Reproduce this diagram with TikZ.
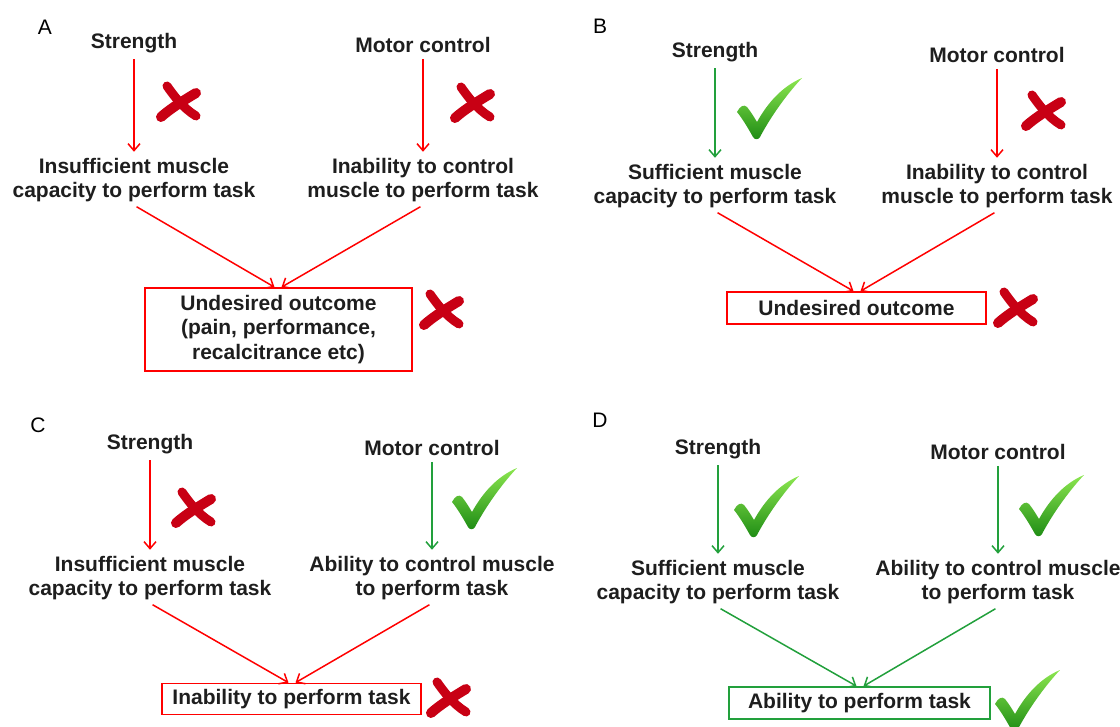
\documentclass[tikz,border=0pt]{standalone}
\usepackage{fontspec}
\setmainfont{Liberation Sans}
\usetikzlibrary{arrows.meta}
\definecolor{linered}{RGB}{255,0,0}
\definecolor{linegreen}{RGB}{34,160,60}
\definecolor{crossred}{RGB}{200,0,20}
\definecolor{tickdark}{RGB}{30,140,20}
\definecolor{ticklight}{RGB}{140,230,80}
\definecolor{textcol}{RGB}{30,30,30}
\tikzset{
  panel/.style={font=\fontsize{21}{25}\selectfont, text=black},
  cause/.style={font=\fontsize{21}{24.5}\selectfont\bfseries, text=textcol, align=center, inner sep=3pt},
  outcome/.style={cause, draw, line width=1.7pt, inner sep=0pt},
  bad/.style={->, draw=linered, line width=1.5pt, shorten <=3pt, shorten >=3pt},
  good/.style={->, draw=linegreen, line width=1.5pt, shorten <=3pt, shorten >=3pt},
  crossmark/.pic={
    \draw[crossred, line width=9pt, line cap=round] (-11,-16) .. controls (-4,-6) and (5,6) .. (18,14);
    \draw[crossred, line width=10pt, line cap=round] (18,-9) .. controls (8,-3) and (-7,6) .. (-17,15);
  },
  tickmark/.pic={
    \shade[top color=ticklight, bottom color=tickdark] (-31,2) .. controls (-28,-4) and (-24,-6) .. (-21,-3)
      .. controls (-17,2) and (-14,7) .. (-11,12)
      .. controls (0,-8) and (15,-24) .. (34,-32)
      .. controls (18,-15) and (2,8) .. (-8,27)
      .. controls (-10,30) and (-13,30) .. (-15,27)
      .. controls (-20,18) and (-26,8) .. cycle;
  }
}
\begin{document}
\begin{tikzpicture}[x=1pt,y=-1pt,>={Straight Barb[length=7pt,width=12pt]}]
\useasboundingbox (0,0) rectangle (1120,727);
%% Panel A
\node[panel] (labA) at (45,27) {A};
  % Node: Strength
\node[cause] (strA) at (134,43) {Strength};
\node[cause] (motA) at (423,45) {Motor control};
  % Node: capacity
\node[cause] (capA) at (134,180) {Insufficient muscle\\capacity to perform task};
\node[cause] (ctlA) at (423,180) {Inability to control\\muscle to perform task};
  % Node: outcome
\node[outcome, draw=linered, minimum width=267pt, minimum height=83pt] (outA) at (278.5,329.5)
  {Undesired outcome\\(pain, performance,\\recalcitrance etc)};
  % Edges
\draw[bad] (strA) -- (capA);
\draw[bad] (motA) -- (ctlA);
\draw[bad, shorten >=0pt] (capA.south) -- ([xshift=-4pt]outA.north);
\draw[bad, shorten >=0pt] (ctlA.south) -- ([xshift=3pt]outA.north);
\pic at (178,102) {crossmark};
\pic at (472,103) {crossmark};
\pic at (441,310) {crossmark};
%% Panel B
\node[panel] (labB) at (600,26) {B};
\node[cause] (strB) at (715,52) {Strength};
\node[cause] (motB) at (997,55) {Motor control};
\node[cause] (capB) at (715,186) {Sufficient muscle\\capacity to perform task};
\node[cause] (ctlB) at (997,186) {Inability to control\\muscle to perform task};
\node[outcome, draw=linered, minimum width=259pt, minimum height=32pt] (outB) at (856.5,308) {Undesired outcome};
\draw[good] (strB) -- (capB);
\draw[bad] (motB) -- (ctlB);
\draw[bad, shorten >=0pt] (capB.south) -- ([xshift=-3pt]outB.north);
\draw[bad, shorten >=0pt] (ctlB.south) -- ([xshift=4pt]outB.north);
\pic at (768,110) {tickmark};
\pic at (1043,111) {crossmark};
\pic at (1015,308) {crossmark};
%% Panel C
\node[panel] (labC) at (38,425) {C};
\node[cause] (strC) at (150,444) {Strength};
\node[cause] (motC) at (432,448) {Motor control};
\node[cause] (capC) at (150,578) {Insufficient muscle\\capacity to perform task};
\node[cause] (ctlC) at (432,578) {Ability to control muscle\\to perform task};
\node[outcome, draw=linered, minimum width=259pt, minimum height=31pt] (outC) at (291.5,699) {Inability to perform task};
\draw[bad] (strC) -- (capC);
\draw[good] (motC) -- (ctlC);
\draw[bad, shorten >=0pt] (capC.south) -- ([xshift=-3pt]outC.north);
\draw[bad, shorten >=0pt] (ctlC.south) -- ([xshift=4pt]outC.north);
\pic at (193,508) {crossmark};
\pic at (483,500) {tickmark};
\pic at (448,698) {crossmark};
%% Panel D
\node[panel] (labD) at (600,420) {D};
\node[cause] (strD) at (718,449) {Strength};
\node[cause] (motD) at (998,452) {Motor control};
\node[cause] (capD) at (718,582) {Sufficient muscle\\capacity to perform task};
\node[cause] (ctlD) at (998,582) {Ability to control muscle\\to perform task};
\node[outcome, draw=linegreen, minimum width=261pt, minimum height=32pt] (outD) at (859.5,703) {Ability to perform task};
\draw[good] (strD) -- (capD);
\draw[good] (motD) -- (ctlD);
\draw[good, shorten >=0pt] (capD.south) -- ([xshift=-3pt]outD.north);
\draw[good, shorten >=0pt] (ctlD.south) -- ([xshift=4pt]outD.north);
\pic at (765,508) {tickmark};
\pic at (1050,507) {tickmark};
\pic at (1026,702) {tickmark};
%
\end{tikzpicture}
\end{document}
